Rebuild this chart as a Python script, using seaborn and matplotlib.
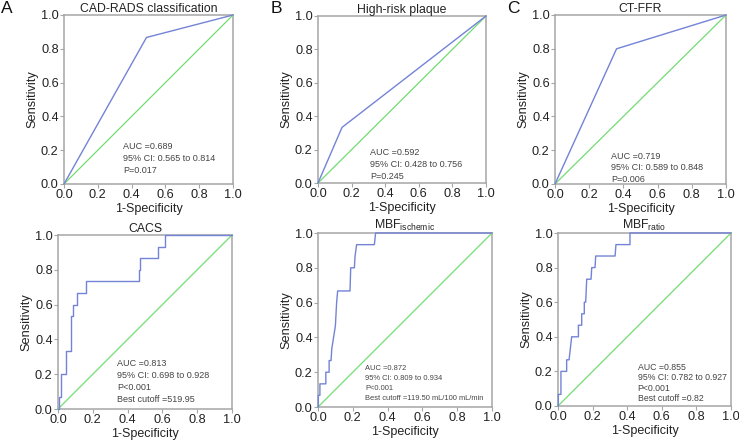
import matplotlib
matplotlib.use("Agg")
import matplotlib.pyplot as plt
import seaborn as sns
import pandas as pd

sns.set_theme(style="white")
plt.rcParams['font.family'] = ['Liberation Sans', 'DejaVu Sans']
plt.rcParams['mathtext.fontset'] = 'custom'
plt.rcParams['mathtext.rm'] = 'Liberation Sans'
plt.rcParams['mathtext.it'] = 'Liberation Sans'

# ---- data ----
titles = ["CAD-RADS classification", "High-risk plaque", "CT-FFR",
          "CACS", r"MBF$_{\mathrm{ischemic}}$", r"MBF$_{\mathrm{ratio}}$"]
letters = ["A", "B", "C"]

cad_fpr = [0.0, 0.488, 1.0]
cad_tpr = [0.0, 0.867, 1.0]
hrp_fpr = [0.0, 0.143, 1.0]
hrp_tpr = [0.0, 0.333, 1.0]
ffr_fpr = [0.0, 0.36, 1.0]
ffr_tpr = [0.0, 0.8, 1.0]

cacs_fpr = [0.0, 0.0, 0.004, 0.004, 0.017, 0.017, 0.044, 0.044, 0.073, 0.073, 0.084, 0.084,
            0.111, 0.111, 0.159, 0.159, 0.464, 0.464, 0.473, 0.473, 0.575, 0.575, 0.617, 0.617, 1.0]
cacs_tpr = [0.0, 0.0, 0.0, 0.067, 0.067, 0.2, 0.2, 0.333, 0.333, 0.533, 0.533, 0.6,
            0.6, 0.667, 0.667, 0.733, 0.733, 0.8, 0.8, 0.867, 0.867, 0.933, 0.933, 1.0, 1.0]

isch_fpr = [0.0, 0.002, 0.002, 0.011, 0.011, 0.045, 0.045, 0.064, 0.064, 0.075, 0.079, 0.1,
            0.107, 0.113, 0.184, 0.188, 0.209, 0.213, 0.222, 0.324, 0.331, 1.0]
isch_tpr = [0.0, 0.0, 0.067, 0.067, 0.133, 0.133, 0.2, 0.2, 0.267, 0.267, 0.333, 0.467,
            0.6, 0.667, 0.667, 0.8, 0.8, 0.867, 0.933, 0.933, 1.0, 1.0]

ratio_fpr = [0.0, 0.002, 0.002, 0.017, 0.017, 0.05, 0.05, 0.064, 0.079, 0.118, 0.118, 0.137, 0.137,
             0.152, 0.152, 0.16, 0.166, 0.191, 0.195, 0.214, 0.218, 0.33, 0.335, 0.416, 0.416, 1.0]
ratio_tpr = [0.0, 0.0, 0.067, 0.067, 0.2, 0.2, 0.267, 0.267, 0.4, 0.4, 0.467, 0.467, 0.533,
             0.533, 0.6, 0.6, 0.733, 0.733, 0.8, 0.8, 0.867, 0.867, 0.933, 0.933, 1.0, 1.0]

annotations = [
    ["AUC =0.689", "95% CI: 0.565 to 0.814", "P=0.017"],
    ["AUC =0.592", "95% CI: 0.428 to 0.756", "P=0.245"],
    ["AUC =0.719", "95% CI: 0.589 to 0.848", "P=0.006"],
    ["AUC =0.813", "95% CI: 0.698 to 0.928", "P<0.001", "Best cutoff =519.95"],
    ["AUC =0.872", "95% CI: 0.809 to 0.934", "P<0.001", "Best cutoff =119.50 mL/100 mL/min"],
    ["AUC =0.855", "95% CI: 0.782 to 0.927", "P<0.001", "Best cutoff =0.82"],
]

curves = [(cad_fpr, cad_tpr), (hrp_fpr, hrp_tpr), (ffr_fpr, ffr_tpr),
          (cacs_fpr, cacs_tpr), (isch_fpr, isch_tpr), (ratio_fpr, ratio_tpr)]

# layout (figure fractions)
W, H = 739, 441
boxes_px = [(64, 233, 15, 184), (318, 486, 16, 183), (555, 726, 15, 184),
            (58, 232, 235, 409), (318, 492, 233, 407), (558, 731, 233, 406)]
ann_pos = [(0.35, 0.22), (0.31, 0.18), (0.33, 0.165), (0.34, 0.26), (0.27, 0.22), (0.46, 0.225)]
ann_size = [6.5, 6.5, 6.5, 6.5, 5.4, 6.3]
ann_step_px = [12, 12, 11.5, 12, 10, 10.5]
letter_px = [(1, 1), (271, 1), (507, 1)]

BLUE = "#7383d6"
GREEN = "#72dc72"
FRAME = "#a6a6a6"

fig = plt.figure(figsize=(W / 100, H / 100), dpi=100)

for i, ((l, r, t, b), (fx, fy)) in enumerate(zip(boxes_px, curves)):
    ax = fig.add_axes([l / W, (H - b) / H, (r - l) / W, (b - t) / H])
    diag = pd.DataFrame({"x": [0.0, 1.0], "y": [0.0, 1.0]})
    sns.lineplot(data=diag, x="x", y="y", ax=ax, color=GREEN, lw=0.9, sort=False,
                 estimator=None)
    df = pd.DataFrame({"fpr": fx, "tpr": fy})
    sns.lineplot(data=df, x="fpr", y="tpr", ax=ax, color=BLUE, lw=1.0, sort=False,
                 estimator=None)
    for ln in ax.lines:
        ln.set_clip_on(False)
        ln.set_zorder(5)
    ax.set_xlim(0, 1)
    ax.set_ylim(0, 1)
    ticks = [0.0, 0.2, 0.4, 0.6, 0.8, 1.0]
    ax.set_xticks(ticks)
    ax.set_yticks(ticks)
    ax.set_xticklabels([f"{v:.1f}" for v in ticks])
    ax.set_yticklabels([f"{v:.1f}" for v in ticks])
    ax.tick_params(axis="both", which="both", direction="out", length=3, width=0.8,
                   color=FRAME, labelsize=9.2, pad=0.8, labelcolor="#222222",
                   bottom=True, left=True)
    for sp in ax.spines.values():
        sp.set_color(FRAME)
        sp.set_linewidth(1.1)
    ax.set_xlabel("1-Specificity", fontsize=9.0, color="#222222", labelpad=1.5)
    ax.set_ylabel("Sensitivity", fontsize=9.2, color="#222222", labelpad=2)
    ax.set_title(titles[i], fontsize=8.8, color="#222222", pad=1.5)
    ax.set_facecolor("white")
    ax.grid(False)
    ax_, ay_ = ann_pos[i]
    lines = annotations[i]
    step = ann_step_px[i] / (b - t)
    for k, txt in enumerate(lines):
        ax.text(ax_, ay_ - k * step, txt, fontsize=ann_size[i], color="#444444",
                transform=ax.transAxes, va="center", ha="left")

for letter, (px, py) in zip(letters, letter_px):
    fig.text(px / W, 1 - py / H, letter, fontsize=12.5, color="#111111",
             ha="left", va="top")

fig.savefig("out.png", dpi=100, facecolor="white")
